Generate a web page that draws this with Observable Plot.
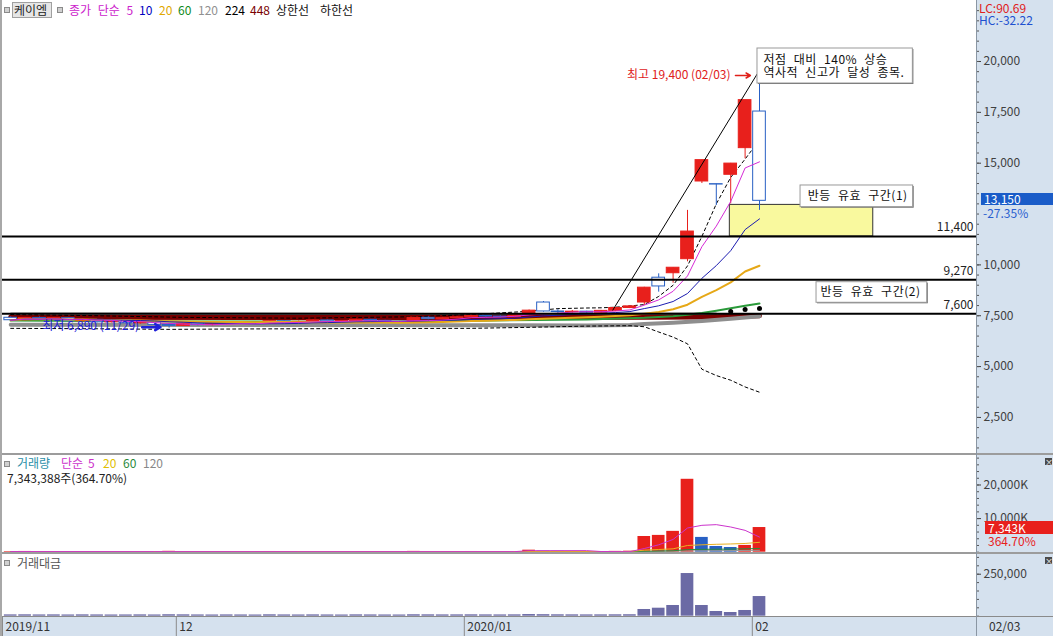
<!DOCTYPE html>
<html><head><meta charset="utf-8">
<script src="https://cdn.jsdelivr.net/npm/d3@7"></script>
<script src="https://cdn.jsdelivr.net/npm/@observablehq/plot@0.6"></script>
<style>
html,body{margin:0;padding:0;background:#fff;}
#wrap{position:relative;width:1053px;height:636px;overflow:hidden;font-family:"Noto Sans CJK KR","Noto Sans",sans-serif;font-size:12px;color:#333;}
.abs{position:absolute;white-space:pre;font-size:12px;height:12px;line-height:12px;}
.blk{position:absolute;}
</style></head><body><div id="wrap"></div>
<script>
// ---------- data ----------
const dates = ["11/14","11/15","11/18","11/19","11/20","11/21","11/22","11/25","11/26","11/27","11/28","11/29",
"12/02","12/03","12/04","12/05","12/06","12/09","12/10","12/11","12/12","12/13","12/16","12/17","12/18","12/19","12/20","12/23","12/24","12/26","12/27","12/30",
"01/02","01/03","01/06","01/07","01/08","01/09","01/10","01/13","01/14","01/15","01/16","01/17","01/20","01/21","01/22","01/23","01/28","01/29","01/30","01/31","02/03"];
const opens  = [7400,7280,7390,7320,7380,7230,7300,7180,7270,7130,7170,7050, 7000,7110,7040,7090,7170,7120,7100,7230,7180,7200,7270,7210,7240,7300,7250,7190,7140,7400,7330,7380, 7420,7500,7460,7420,7560,8150,7710,7680,7700,7650,7740,7880, 8150,9370,9590,10280,14100,13970,14430,15740,17540];
const highs  = [7450,7420,7440,7400,7400,7330,7320,7300,7290,7200,7180,7100, 7150,7130,7120,7200,7190,7180,7250,7260,7240,7300,7290,7260,7330,7320,7280,7220,7420,7450,7420,7480, 7550,7540,7500,7600,7780,8200,7800,7760,7720,7760,7900,8000, 8900,9560,9860,12680,15150,13980,14990,18100,19400];
const lows   = [7260,7250,7300,7280,7200,7190,7150,7150,7100,7080,7020,6890, 6980,7000,7000,7060,7080,7070,7090,7150,7140,7170,7180,7150,7200,7220,7160,7120,7110,7300,7300,7350, 7380,7420,7380,7400,7540,7680,7620,7630,7600,7620,7700,7850, 8000,8660,9100,10150,14000,12920,13000,15220,12680];
const closes = [7280,7390,7320,7380,7230,7300,7180,7270,7130,7170,7050,7000, 7110,7040,7090,7170,7120,7100,7230,7180,7200,7270,7210,7240,7300,7250,7190,7140,7400,7330,7380,7420, 7500,7460,7420,7560,7750,7710,7680,7700,7650,7740,7880,7960, 8880,8940,9860,11640,15150,13950,14980,18100,13150];
// volume, thousand shares
const volumes = [180,220,150,170,140,200,160,130,150,170,140,260, 190,150,130,160,140,120,210,150,130,170,140,120,180,150,130,120,240,200,160,180, 210,170,150,190,600,300,260,220,180,200,240,300, 4670,5000,6200,21700,4400,1700,1400,2013,7343];
// trading value, million won
const values = [7800,8200,7500,7900,7300,8000,7600,7200,7400,7900,7300,8600, 8100,7500,7200,7700,7400,7100,8300,7600,7300,7900,7400,7100,8000,7600,7300,7100,8500,8100,7700,7900, 8200,7800,7600,8000,9800,9000,8300,8000,7700,7900,8200,8600, 39900,47600,63700,254000,63700,28000,22000,34000,117000];

// long moving averages and bands, [day index, price]
const ma60  = [[0,7260],[12,7220],[24,7200],[32,7250],[40,7320],[44,7400],[46,7480],[47,7550],[48,7630],[49,7750],[50,7870],[51,7990],[52,8100]];
const ma120 = [[0,7060],[20,7040],[32,7030],[40,7020],[43,7040],[44,7090],[46,7150],[48,7240],[50,7350],[52,7480]];
const ma224 = [[0,7610],[30,7600],[49,7610]];
const ma224Dots = [[50,7710],[51,7810],[52,7860]];
const ma448 = [[0,7420],[30,7410],[44,7420],[48,7440],[52,7500]];
const bandUpper = [[0,7560],[6,7500],[12,7420],[20,7380],[28,7450],[32,7560],[36,7720],[38,7850],[40,7880],[41,7890],[42,7920],[43,7980],[44,8050],[45,8450],[46,9000],[47,9950],[48,11400],[49,13000],[50,14300],[51,15200],[52,16150]];
const bandLower = [[0,6880],[6,6860],[11,6830],[16,6850],[24,6870],[32,6880],[36,6930],[40,6990],[43,7010],[44,6960],[45,6700],[46,6450],[47,6120],[48,4870],[49,4560],[50,4330],[51,4000],[52,3740]];

// volume moving averages, [day index, thousand shares]
const volMa5   = [[0,180],[10,170],[20,160],[35,170],[36,450],[40,470],[41,200],[43,150],[44,1100],[45,2200],[46,3800],[47,7200],[48,8000],[49,8200],[50,7500],[51,6500],[52,4500]];
const volMa20  = [[0,170],[43,200],[44,600],[45,800],[46,1000],[47,2000],[48,2200],[49,2350],[50,2450],[51,2600],[52,2950]];
const volMa60  = [[0,180],[43,200],[46,420],[47,780],[48,850],[50,920],[52,1100]];
const volMa120 = [[0,190],[43,190],[47,380],[52,560]];

const levels = [11400, 9270, 7600];
const mainTicks = [2500,5000,7500,10000,15000,17500,20000];
const volTicks = [10000000, 20000000];
const valTicks = [250000];
const months = [{i:-0.57,label:"2019/11"},{i:11.5,label:"12"},{i:31.5,label:"2020/01"},{i:51.5,label:"02"}];

// annotations (day index / price)
const zone = [{i1:49.94,i2:59.9,lo:11400,hi:12950}];
const boxes = [{i1:51.86,i2:62.65,lo:18918,hi:20639},{i1:54.85,i2:62.67,lo:12837,hi:13904},{i1:55.96,i2:63.65,lo:8137,hi:9149}];
const boxTexts = [{i:52.28,v:19760,t:"저점 대비 140% 상승\n역사적 신고가 달성 종목."},{i:55.35,v:13387,t:"반등 유효 구간(1)"},{i:56.24,v:8658,t:"반등 유효 구간(2)"}];
const trend = [{i1:41.8,v1:7760,i2:51.86,v2:19410}];
const highNote = [{i:49.99,v:19312,t:"최고 19,400 (02/03)",i2:50.33,i3:51.37}];
const lowNote = [{i:2.19,v:6985,t:"최저 6,890 (11/29)",i2:9.13,i3:10.4,va:6937}];

// ---------- chart ----------
const FONT = '"Noto Sans CJK KR","Noto Sans",sans-serif';
const RED = "#e8201c", BLUE = "#2860c4";
const days = dates.map((date, i) => ({i, date, open: opens[i], high: highs[i], low: lows[i], close: closes[i], vol: volumes[i]*1000, val: values[i], pv: i ? volumes[i-1] : volumes[i]}));
const pts = (arr, m = 1) => arr.map(([i, v]) => ({i, v: v*m}));
const W = 1053, MR = 77;
const XR = 67.0694; // day index at the right frame edge
const xScale = {type: "linear", domain: [-0.7083, XR], axis: null};
const baseStyle = {background: "transparent", fontFamily: FONT, fontSize: "12px", color: "#404040", overflow: "visible"};
const candleColor = d => d.close >= d.open ? RED : BLUE;
const wrap = document.getElementById("wrap");

function blk(left, top, w, h, bg, extra) {
  const d = document.createElement("div"); d.className = "blk";
  Object.assign(d.style, {left: left+"px", top: top+"px", width: w+"px", height: h+"px", background: bg}, extra || {});
  wrap.appendChild(d); return d;
}
function txt(text, left, cy, color, extra) {
  const s = document.createElement("div"); s.className = "abs"; s.textContent = text;
  Object.assign(s.style, {left: left+"px", top: (cy-6)+"px", color}, extra || {});
  wrap.appendChild(s); return s;
}
function place(svg, top) { svg.style.position = "absolute"; svg.style.left = "0px"; svg.style.top = top + "px"; wrap.appendChild(svg); }

// backgrounds
blk(977, 0, 76, 636, "#d5e1ee");
blk(0, 617, 1053, 19, "#d5e1ee");

const main = Plot.plot({
  width: W, height: 453, marginLeft: 0, marginRight: MR, marginTop: 0, marginBottom: 0,
  x: xScale,
  y: {domain: [727, 22999], axis: "right", ticks: mainTicks, tickFormat: d3.format(","), tickSize: 4, tickPadding: 3, label: null},
  color: {type: "identity"},
  style: baseStyle,
  marks: [
    Plot.rect(zone, {x1: "i1", x2: "i2", y1: "lo", y2: "hi", fill: "#f9f99e", stroke: "#333", strokeWidth: 1}),
    Plot.line(pts(ma448), {x: "i", y: "v", stroke: "#7a0000", strokeWidth: 5}),
    Plot.line(pts(ma120), {x: "i", y: "v", stroke: "#8e8e8e", strokeWidth: 4}),
    Plot.line(pts(ma224), {x: "i", y: "v", stroke: "#000", strokeWidth: 1.5}),
    Plot.line(pts(ma60), {x: "i", y: "v", stroke: "#2a9a3a", strokeWidth: 2}),
    Plot.line(pts(bandUpper), {x: "i", y: "v", stroke: "#000", strokeWidth: 1, strokeDasharray: "3,3"}),
    Plot.line(pts(bandLower), {x: "i", y: "v", stroke: "#000", strokeWidth: 1, strokeDasharray: "3,3"}),
    Plot.ruleX(days, {x: "i", y1: "low", y2: "high", stroke: candleColor}),
    Plot.rect(days, {x1: d => d.i - 0.44, x2: d => d.i + 0.44, y1: "open", y2: "close", fill: d => d.close >= d.open ? RED : "white", stroke: candleColor}),
    Plot.line(days, Plot.windowY({k: 20, anchor: "end"}, {x: "i", y: "close", stroke: "#e6a817", strokeWidth: 2})),
    Plot.line(days, Plot.windowY({k: 10, anchor: "end"}, {x: "i", y: "close", stroke: "#1c1cb0", strokeWidth: 1})),
    Plot.line(days, Plot.windowY({k: 5, anchor: "end"}, {x: "i", y: "close", stroke: "#d62ad6", strokeWidth: 1})),
    Plot.dot(pts(ma224Dots), {x: "i", y: "v", fill: "#000", r: 2.5}),
    Plot.ruleY(levels, {stroke: "#000", strokeWidth: 2}),
    Plot.text(levels, {y: d => d, text: d => d3.format(",")(d), frameAnchor: "right", textAnchor: "end", dx: -3, dy: -9, fill: "#222"}),
    Plot.link(trend, {x1: "i1", y1: "v1", x2: "i2", y2: "v2", stroke: "#000", strokeWidth: 1}),
    Plot.rect(boxes, {x1: "i1", x2: "i2", y1: "lo", y2: "hi", fill: "#666", dx: 1, dy: 1}),
    Plot.rect(boxes, {x1: "i1", x2: "i2", y1: "lo", y2: "hi", fill: "white", stroke: "#999"}),
    Plot.text(boxTexts, {x: "i", y: "v", text: "t", textAnchor: "start", lineHeight: 1.05, fill: "#111"}),
    Plot.text(highNote, {x: "i", y: "v", text: "t", textAnchor: "end", fill: "#e0201a"}),
    Plot.arrow(highNote, {x1: "i2", x2: "i3", y1: "v", y2: "v", stroke: "#e0201a", strokeWidth: 1.5, headLength: 6}),
    Plot.text(lowNote, {x: "i", y: "v", text: "t", textAnchor: "start", fill: "#2020d8"}),
    Plot.arrow(lowNote, {x1: "i2", x2: "i3", y1: "va", y2: "va", stroke: "#2020d8", strokeWidth: 2.5, headLength: 7}),
    Plot.ruleY(d3.range(1000, 23000, 500), {x1: XR, x2: XR + 3/14.4, stroke: "#555"})
  ]
});
// wider word spacing in the boxed notes (as in the reference's font)
d3.select(main).selectAll("text").filter(function() { return /구간|저점/.test(this.textContent); })
  .style("word-spacing", "4px").style("letter-spacing", "0.5px");
place(main, 0);

const volPlot = Plot.plot({
  width: W, height: 97, marginLeft: 0, marginRight: MR, marginTop: 0, marginBottom: 0,
  x: xScale,
  y: {domain: [-90000, 28780000], axis: "right", ticks: volTicks, tickFormat: d => d3.format(",")(d/1000) + "K", tickSize: 4, tickPadding: 3, label: null},
  color: {type: "identity"},
  style: baseStyle,
  marks: [
    Plot.rect(days, {x1: d => d.i - 0.44, x2: d => d.i + 0.44, y1: 0, y2: "vol", fill: d => volumes[d.i] >= d.pv ? RED : BLUE}),
    Plot.line(pts(volMa120, 1000), {x: "i", y: "v", stroke: "#999", strokeWidth: 1}),
    Plot.line(pts(volMa60, 1000), {x: "i", y: "v", stroke: "#2a8a3a", strokeWidth: 1}),
    Plot.line(pts(volMa20, 1000), {x: "i", y: "v", stroke: "#e8b020", strokeWidth: 1}),
    Plot.line(pts(volMa5, 1000), {x: "i", y: "v", stroke: "#cc33cc", strokeWidth: 1}),
    Plot.ruleY(d3.range(0, 29000000, 2000000), {x1: XR, x2: XR + 3/14.4, stroke: "#555"})
  ]
});
place(volPlot, 455);

const valPlot = Plot.plot({
  width: W, height: 62, marginLeft: 0, marginRight: MR, marginTop: 0, marginBottom: 0,
  x: xScale,
  y: {domain: [-1800, 367300], axis: "right", ticks: valTicks, tickFormat: d3.format(","), tickSize: 4, tickPadding: 3, label: null},
  style: baseStyle,
  marks: [
    Plot.rect(days, {x1: d => d.i - 0.44, x2: d => d.i + 0.44, y1: 0, y2: "val", fill: "#6b6aa5"}),
    Plot.ruleY(d3.range(0, 367000, 50000), {x1: XR, x2: XR + 3/14.4, stroke: "#555"})
  ]
});
place(valPlot, 554);

const axisPlot = Plot.plot({
  width: W, height: 19, marginLeft: 0, marginRight: MR, marginTop: 0, marginBottom: 0,
  x: xScale, y: {domain: [0, 1], axis: null},
  style: baseStyle,
  marks: [
    Plot.ruleX(months, {x: "i", stroke: "#8a8a8a"}),
    Plot.text(months, {x: "i", text: "label", frameAnchor: "middle", textAnchor: "start", dx: 3, fill: "#333"})
  ]
});
place(axisPlot, 617);

// frame lines
blk(0, 453, 1053, 2, "#9c9c9c");
blk(0, 552, 1053, 2, "#9c9c9c");
blk(0, 616, 1053, 1, "#8a8a8a");
blk(976, 0, 1, 636, "#8a96a3");
blk(0, 0, 2, 636, "#a8a8a8");

// header legend, main panel
function icon(left, top) { blk(left, top, 4, 4, "#d0d0d0", {border: "1px solid #8a8a8a"}); }
icon(4, 7);
blk(12, 2, 40, 16, "#e6e6e6", {border: "1px solid #a0a0a0", boxSizing: "border-box"});
txt("케이엠", 14, 10, "#222");
icon(57, 7);
const legendMain = [["종가 단순 5","#cc22cc",69],["10","#0000c0",139],["20","#e0a800",159],["60","#108a20",178],["120","#909090",198],["224","#000",225],["448","#7a0000",250],["상한선","#111",276],["하한선","#111",320]];
legendMain.forEach(([t, c, x]) => txt(t, x, 10, c, {wordSpacing: "4px"}));

// right axis extras, main panel
txt("LC:90.69", 979, 8, "#e02020");
txt("HC:-32.22", 979, 20, "#2050d0");
txt("-27.35%", 983, 213, "#2a5fd0");
blk(981, 193, 72, 12, "#1a5cc8");
txt("13,150", 984, 199, "#fff");

// volume panel
icon(4, 461);
const legendVol = [["거래량","#2a8fa8",17],["단순","#cc33cc",61],["5","#cc33cc",88],["20","#e0c000",103],["60","#2a8a3a",123],["120","#888",143]];
legendVol.forEach(([t, c, x]) => txt(t, x, 463, c));
txt("7,343,388주(364.70%)", 7, 478, "#222");
blk(985, 521, 68, 13, "#e8201c");
txt("7,343K", 988, 527.5, "#fff");
txt("364.70%", 988, 541, "#e8201c");

// value panel
icon(4, 560);
txt("거래대금", 17, 563, "#555");

// bottom axis, right part
txt("02/03", 989, 626, "#333");

// close icons
function closeIcon(top) { const d = blk(1045, top, 7, 7, "#4a4a4a", {color: "#fff", fontSize: "8px", lineHeight: "7px", textAlign: "center"}); d.textContent = "×"; }
closeIcon(458); closeIcon(557);
</script></body></html>
